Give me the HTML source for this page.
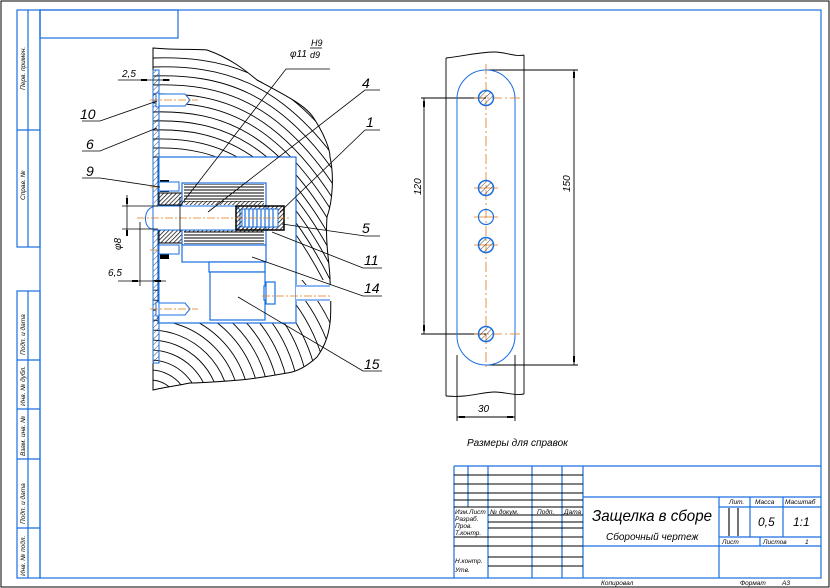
<!DOCTYPE html>
<html><head><meta charset="utf-8"><style>
html,body{margin:0;padding:0;background:#fff}
svg{display:block}
text{font-family:"Liberation Sans",sans-serif;font-style:italic;fill:#000}
</style></head><body>
<svg width="830" height="588" viewBox="0 0 830 588" xmlns="http://www.w3.org/2000/svg">
<defs>
<clipPath id="wood"><path d="M153,48 C175,50 195,49 207,50 C230,58 245,70 257,80 C285,95 305,105 313,117 C325,135 330,150 330,157 C334,175 333,200 327,217 C325,245 330,265 330,280 C331,300 331,315 330,323 C328,340 322,350 317,357 C305,368 295,372 287,373 C265,377 250,379 240,380 C215,382 200,383 190,383 C175,386 160,388 153,390 Z"/></clipPath>
<clipPath id="top"><rect x="150" y="40" width="200" height="240"/></clipPath>
<clipPath id="bot"><rect x="150" y="280" width="200" height="120"/></clipPath>
<pattern id="hat" width="3" height="3" patternUnits="userSpaceOnUse" patternTransform="rotate(45)"><line x1="0" y1="0" x2="0" y2="3" stroke="#000" stroke-width="1.4"/></pattern>
<pattern id="hatl" width="4" height="4" patternUnits="userSpaceOnUse" patternTransform="rotate(45)"><line x1="0" y1="0" x2="0" y2="4" stroke="#000" stroke-width="0.7"/></pattern>
<pattern id="hz" width="4" height="3" patternUnits="userSpaceOnUse"><line x1="0" y1="1" x2="4" y2="1" stroke="#000" stroke-width="1"/></pattern>
</defs>

<rect x="1" y="1" width="828" height="586" fill="none" stroke="#000" stroke-width="1"/>
<g stroke="#1a6fe0" fill="none" stroke-width="1.2">
<rect x="40" y="10" width="781" height="568"/>
<rect x="40" y="10" width="138" height="28"/>
<rect x="17" y="10" width="23" height="237"/>
<line x1="28" y1="10" x2="28" y2="247"/><line x1="17" y1="130" x2="40" y2="130"/>
<rect x="17" y="291" width="23" height="287"/>
<line x1="28" y1="291" x2="28" y2="578"/>
<line x1="17" y1="360" x2="40" y2="360"/><line x1="17" y1="409" x2="40" y2="409"/>
<line x1="17" y1="459" x2="40" y2="459"/><line x1="17" y1="528" x2="40" y2="528"/>
</g>
<g font-size="6.5">
<text transform="translate(25,90) rotate(-90)">Перв. примен.</text>
<text transform="translate(25,200) rotate(-90)">Справ. №</text>
<text transform="translate(25,355) rotate(-90)">Подп. и дата</text>
<text transform="translate(25,406) rotate(-90)">Инв. № дубл.</text>
<text transform="translate(25,456) rotate(-90)">Взам. инв. №</text>
<text transform="translate(25,524) rotate(-90)">Подп. и дата</text>
<text transform="translate(25,576) rotate(-90)">Инв. № подл.</text>
</g>

<g clip-path="url(#wood)" stroke="#000" stroke-width="0.9" fill="none">
<g clip-path="url(#top)">
<path d="M153,58 C220,56 280,70 340,150"/><path d="M153,67 C220,65 280,80 340,165"/>
<path d="M153,76 C220,74 280,90 340,180"/><path d="M153,85 C220,83 280,100 340,195"/>
<path d="M153,94 C220,92 280,110 340,210"/><path d="M153,103 C220,101 280,120 340,225"/>
<path d="M153,112 C220,110 280,130 340,240"/><path d="M153,121 C220,119 280,140 340,255"/>
<path d="M153,130 C220,128 280,150 340,270"/><path d="M153,139 C220,137 280,160 340,285"/>
<path d="M153,148 C220,146 280,170 340,300"/><path d="M153,157 C220,155 280,180 340,315"/>
</g>
<g clip-path="url(#bot)">
<circle cx="150" cy="410" r="20"/><circle cx="150" cy="410" r="30"/><circle cx="150" cy="410" r="40"/>
<circle cx="150" cy="410" r="50"/><circle cx="150" cy="410" r="60"/><circle cx="150" cy="410" r="70"/>
<circle cx="150" cy="410" r="80"/><circle cx="150" cy="410" r="90"/><circle cx="150" cy="410" r="100"/>
<circle cx="150" cy="410" r="110"/><circle cx="150" cy="410" r="120"/><circle cx="150" cy="410" r="130"/>
<circle cx="150" cy="410" r="140"/><circle cx="150" cy="410" r="150"/><circle cx="150" cy="410" r="160"/>
<circle cx="150" cy="410" r="170"/><circle cx="150" cy="410" r="180"/><circle cx="150" cy="410" r="190"/>
<circle cx="150" cy="410" r="200"/>
</g>
</g>
<path d="M153,48 C175,50 195,49 207,50 C230,58 245,70 257,80 C285,95 305,105 313,117 C325,135 330,150 330,157 C334,175 333,200 327,217 C325,245 330,265 330,280 C331,300 331,315 330,323 C328,340 322,350 317,357 C305,368 295,372 287,373 C265,377 250,379 240,380 C215,382 200,383 190,383 C175,386 160,388 153,390 Z" fill="none" stroke="#000" stroke-width="1"/>

<rect x="158" y="157" width="138" height="166" fill="#fff" stroke="#1a6fe0" stroke-width="1.2"/>
<rect x="296" y="285" width="40" height="16" fill="#fff" stroke="none"/>
<line x1="296" y1="286" x2="330" y2="286" stroke="#1a6fe0"/><line x1="296" y1="300" x2="330" y2="300" stroke="#1a6fe0"/>
<rect x="153" y="70" width="6" height="293" fill="url(#hatl)" stroke="#1a6fe0" stroke-width="1"/>
<g stroke="#1a6fe0" fill="#fff" stroke-width="1">
<path d="M159,94 L185,94 L190,100 L185,106 L159,106 Z"/>
<path d="M159,303 L185,303 L190,309 L185,315 L159,315 Z" />
<rect x="156" y="93" width="3" height="14"/><rect x="156" y="302" width="3" height="14"/>
</g>
<g stroke="#e07818" stroke-width="0.8" stroke-dasharray="8,2,2,2">
<line x1="150" y1="100" x2="198" y2="100"/><line x1="150" y1="309" x2="198" y2="309"/>
<line x1="150" y1="187" x2="180" y2="187"/><line x1="150" y1="250" x2="180" y2="250"/>
</g>

<rect x="160" y="180" width="9" height="12" fill="#000"/><rect x="160" y="247" width="9" height="12" fill="#000"/>
<rect x="159" y="193" width="24" height="12" fill="url(#hat)" stroke="#000"/>
<rect x="159" y="230" width="24" height="13" fill="url(#hat)" stroke="#000"/>
<rect x="159" y="182" width="20" height="9" fill="#fff" stroke="#1a6fe0"/>
<rect x="159" y="245" width="20" height="9" fill="#fff" stroke="#1a6fe0"/>
<rect x="182" y="183" width="84" height="62" fill="#fff" stroke="#1a6fe0" stroke-width="1.2"/>
<rect x="184" y="184" width="80" height="18" fill="url(#hz)"/>
<rect x="184" y="231" width="80" height="13" fill="url(#hz)"/>
<rect x="184" y="201" width="80" height="4" fill="url(#hat)"/>
<rect x="184" y="228" width="80" height="4" fill="url(#hat)"/>
<path d="M153,206 L236,206 L240,210 L240,226 L236,230 L153,230 Z" fill="#fff" stroke="#1a6fe0" stroke-width="1"/>
<path d="M153,207 C143,209 143,229 153,229" fill="none" stroke="#1a6fe0"/>
<rect x="236" y="206" width="48" height="24" fill="url(#hat)" stroke="#000" stroke-width="1.5"/>
<rect x="242" y="209" width="36" height="18" fill="#fff" stroke="#1a6fe0"/>
<g stroke="#1a6fe0" stroke-width="1.2"><line x1="245" y1="209" x2="245" y2="227"/><line x1="249" y1="209" x2="249" y2="227"/><line x1="253" y1="209" x2="253" y2="227"/><line x1="257" y1="209" x2="257" y2="227"/><line x1="261" y1="209" x2="261" y2="227"/><line x1="265" y1="209" x2="265" y2="227"/><line x1="269" y1="209" x2="269" y2="227"/><line x1="273" y1="209" x2="273" y2="227"/></g>
<line x1="137" y1="218" x2="290" y2="218" stroke="#e07818" stroke-width="0.8" stroke-dasharray="8,2,2,2"/>
<g fill="#fff" stroke="#1a6fe0" stroke-width="1.2">
<rect x="182" y="245" width="84" height="17"/>
<rect x="209" y="262" width="56" height="10"/>
<rect x="210" y="272" width="55" height="48"/>
<rect x="264" y="286" width="10" height="14"/>
<rect x="266" y="282" width="9" height="22"/>
</g>
<line x1="262" y1="296" x2="330" y2="296" stroke="#e07818" stroke-width="0.8" stroke-dasharray="8,2,2,2"/>

<g stroke="#000" stroke-width="0.8" fill="none">
<line x1="118" y1="80" x2="170" y2="80"/>
<line x1="118" y1="281" x2="166" y2="281"/>
<line x1="140" y1="222" x2="140" y2="286"/>
<line x1="127" y1="195" x2="127" y2="236"/>
<line x1="122" y1="206" x2="158" y2="206"/><line x1="122" y1="229" x2="158" y2="229"/>
<line x1="180" y1="197" x2="180" y2="232"/>
<polyline points="82,121 100,121 157,101"/>
<polyline points="82,151 100,151 157,128"/>
<polyline points="82,178 100,178 160,187"/>
<polyline points="330,69 286,69 180,206"/>
<polyline points="380,90 365,90 208,212"/>
<polyline points="380,130 365,130 280,212"/>
<polyline points="380,236 365,236 282,224"/>
<polyline points="382,268 363,268 272,232"/>
<polyline points="382,296 363,296 252,257"/>
<polyline points="382,371 363,371 238,297"/>
</g>
<g fill="#000">
<rect x="141" y="79" width="6" height="2"/><rect x="163" y="79" width="6" height="2"/>
<rect x="132" y="280" width="6" height="2"/><rect x="155" y="280" width="6" height="2"/>
<rect x="126" y="198" width="2" height="6"/><rect x="126" y="230" width="2" height="6"/>
</g>
<g font-size="14">
<text x="80" y="119">10</text><text x="86" y="149">6</text><text x="86" y="176">9</text>
<text x="362" y="88">4</text><text x="366" y="127">1</text><text x="362" y="233">5</text>
<text x="364" y="265">11</text><text x="364" y="293">14</text><text x="364" y="369">15</text>
</g>
<g font-size="10">
<text x="122" y="77">2,5</text><text x="108" y="276">6,5</text>
<text transform="translate(121,250) rotate(-90)">φ8</text>
<text x="290" y="57">φ11</text><text x="311" y="46" font-size="9">H9</text><text x="310" y="58" font-size="9">d9</text>
</g>
<line x1="310" y1="48" x2="322" y2="48" stroke="#000" stroke-width="0.8"/>

<g stroke="#000" stroke-width="0.9" fill="none">
<path d="M446,58 C470,55 480,52 495,52 C505,52 515,57 524,55"/>
<path d="M446,396 C470,398 480,392 495,392 C505,392 515,396 524,394"/>
<line x1="446" y1="58" x2="446" y2="396"/><line x1="524" y1="55" x2="524" y2="394"/>
<line x1="421" y1="98" x2="486" y2="98"/><line x1="421" y1="334" x2="486" y2="334"/>
<line x1="424" y1="98" x2="424" y2="334"/>
<line x1="486" y1="70" x2="578" y2="70"/><line x1="486" y1="365" x2="578" y2="365"/>
<line x1="574" y1="70" x2="574" y2="365"/>
<line x1="457" y1="355" x2="457" y2="421"/><line x1="515" y1="355" x2="515" y2="421"/>
<line x1="457" y1="417" x2="515" y2="417"/>
</g>
<g fill="#000">
<rect x="423" y="101" width="2" height="6"/><rect x="423" y="325" width="2" height="6"/>
<rect x="573" y="72" width="2" height="6"/><rect x="573" y="356" width="2" height="6"/>
<rect x="459" y="416" width="6" height="2"/><rect x="507" y="416" width="6" height="2"/>
</g>
<rect x="457" y="70" width="58" height="295" rx="29" fill="none" stroke="#1a6fe0" stroke-width="1"/>
<line x1="486" y1="64" x2="486" y2="370" stroke="#e07818" stroke-width="0.8" stroke-dasharray="10,3,2,3"/>
<g stroke="#e07818" stroke-width="0.8">
<line x1="474" y1="98" x2="520" y2="98" stroke-dasharray="10,3,2,3"/><line x1="474" y1="334" x2="520" y2="334" stroke-dasharray="10,3,2,3"/>
<line x1="474" y1="188" x2="498" y2="188"/><line x1="474" y1="217" x2="498" y2="217"/><line x1="474" y1="245" x2="498" y2="245"/>
</g>
<g fill="url(#hatl)" stroke="#1a6fe0" stroke-width="1.5">
<circle cx="486" cy="98" r="7.5"/><circle cx="486" cy="188" r="7.5"/><circle cx="486" cy="245" r="7.5"/><circle cx="486" cy="334" r="7.5"/>
</g>
<circle cx="486" cy="217" r="7.5" fill="none" stroke="#1a6fe0" stroke-width="1.2"/>
<g font-size="10">
<text transform="translate(421,195) rotate(-90)">120</text>
<text transform="translate(570,192) rotate(-90)">150</text>
<text x="478" y="412">30</text>
</g>
<text x="467" y="446" font-size="10">Размеры для справок</text>

<g stroke="#1a6fe0" stroke-width="1.2" fill="none">
<line x1="454" y1="466" x2="821" y2="466"/>
<line x1="454" y1="466" x2="454" y2="578"/>
<line x1="583" y1="466" x2="583" y2="578"/>
<line x1="719" y1="497" x2="719" y2="578"/>
<line x1="583" y1="497" x2="821" y2="497"/>
<line x1="719" y1="507" x2="821" y2="507"/>
<line x1="719" y1="537" x2="821" y2="537"/>
<line x1="583" y1="546" x2="821" y2="546"/>
<line x1="750" y1="497" x2="750" y2="537"/><line x1="783" y1="497" x2="783" y2="537"/>
<line x1="760" y1="537" x2="760" y2="546"/>
<line x1="468" y1="466" x2="468" y2="507"/>
<line x1="488" y1="466" x2="488" y2="578"/><line x1="532" y1="466" x2="532" y2="578"/><line x1="562" y1="466" x2="562" y2="578"/>
</g>
<g stroke="#000" stroke-width="1.1">
<line x1="454" y1="475" x2="583" y2="475"/><line x1="454" y1="484" x2="583" y2="484"/>
<line x1="454" y1="493" x2="583" y2="493"/><line x1="454" y1="500" x2="583" y2="500"/>
<line x1="454" y1="507" x2="583" y2="507"/>
<line x1="488" y1="515" x2="583" y2="515"/><line x1="488" y1="522" x2="583" y2="522"/><line x1="488" y1="528" x2="583" y2="528"/>
<line x1="454" y1="537" x2="583" y2="537"/><line x1="454" y1="546" x2="583" y2="546"/>
<line x1="488" y1="557" x2="583" y2="557"/><line x1="488" y1="566" x2="583" y2="566"/>
<line x1="729" y1="508" x2="729" y2="536"/><line x1="738" y1="508" x2="738" y2="536"/>
</g>
<g font-size="6.5">
<text x="455" y="514">Изм.</text><text x="469" y="514">Лист</text><text x="490" y="514">№ докум.</text>
<text x="537" y="514">Подп.</text><text x="564" y="514">Дата</text>
<text x="455" y="521">Разраб.</text><text x="455" y="528">Пров.</text><text x="455" y="535">Т.контр.</text>
<text x="455" y="563">Н.контр.</text><text x="455" y="572">Утв.</text>
<text x="729" y="504">Лит.</text><text x="755" y="504">Масса</text><text x="785" y="504">Масштаб</text>
<text x="722" y="544">Лист</text><text x="763" y="544">Листов</text><text x="805" y="544">1</text>
<text x="601" y="585">Копировал</text><text x="740" y="585">Формат</text><text x="782" y="585">А3</text>
</g>
<text x="592" y="521" font-size="16" textLength="120" lengthAdjust="spacingAndGlyphs">Защелка в сборе</text>
<text x="606" y="540" font-size="10">Сборочный чертеж</text>
<text x="758" y="526" font-size="12">0,5</text>
<text x="793" y="526" font-size="12">1:1</text>
</svg>
</body></html>
